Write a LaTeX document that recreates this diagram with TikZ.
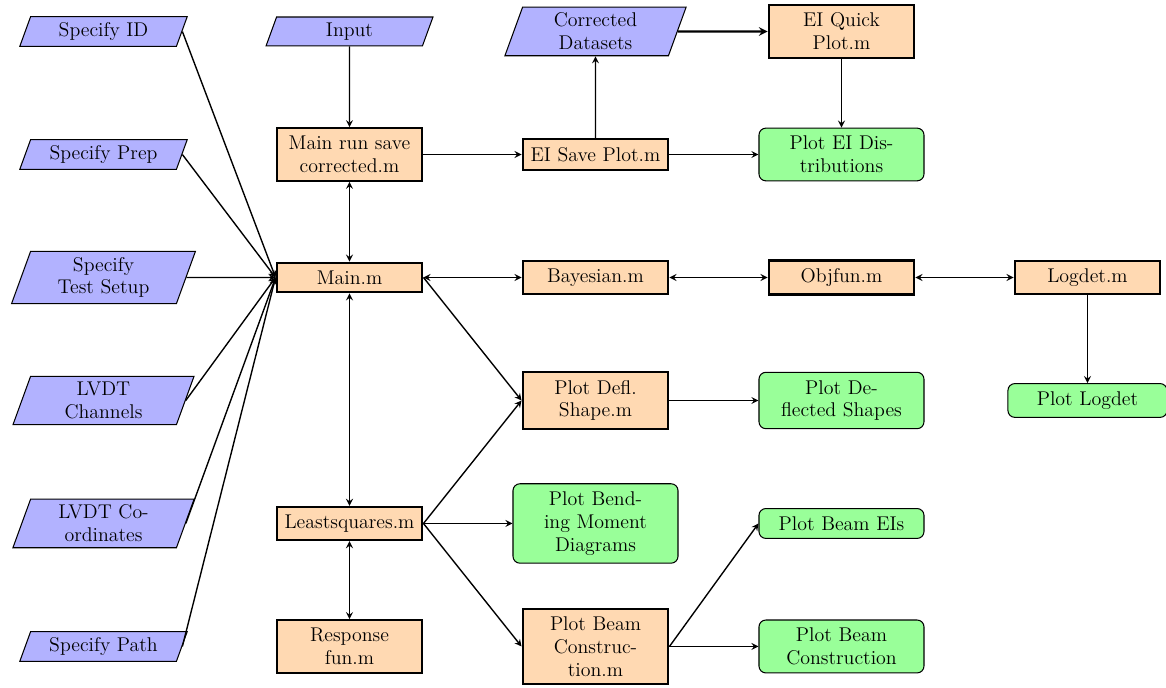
\documentclass[tikz,border=0pt]{standalone}
\usepackage{tikz}
\usetikzlibrary{shapes.geometric, arrows, positioning}
\newcommand{\boxfont}{\fontsize{11.5}{13.2}\selectfont}
\tikzset{
  inputbox/.style={trapezium, trapezium left angle=70, trapezium right angle=110,
    draw, semithick, fill=blue!30, text width=2.73cm, align=center, font=\boxfont}
}
\tikzset{
  processbox/.style={rectangle, draw, very thick, fill=orange!30, text width=2.73cm,
    inner ysep=4.6pt, align=center, font=\boxfont}
}
\tikzset{
  plotbox/.style={rectangle, rounded corners, draw, semithick, fill=green!40, text width=3.12cm,
    inner ysep=4.6pt, align=center, font=\boxfont}
}
\tikzset{
  flowline/.style={thick}
}

\begin{document}
\begin{tikzpicture}[>=stealth]
      \useasboundingbox (-2.104,0.64) rectangle (21.596,-13.343);
      % inputs
      \node[inputbox] (specid) at (0,0) {Specify ID};
      \node[inputbox] (specprep) at (0,-2.5) {Specify Prep};
      \node[inputbox] (specsetup) at (0,-5) {Specify\\Test Setup};
      \node[inputbox] (lvdtchan) at (0,-7.5) {LVDT\\Channels};
      \node[inputbox] (lvdtcoord) at (0,-10) {LVDT Co-\\ordinates};
      \node[inputbox] (specpath) at (0,-12.5) {Specify Path};
      % main column
      \node[inputbox] (input) at (5,0) {Input};
      \node[processbox] (mainrun) at (5,-2.5) {Main run save\\corrected.m};
      \node[processbox] (mainm) at (5,-5) {Main.m};
      \node[processbox] (lsq) at (5,-10) {Leastsquares.m};
      \node[processbox] (respfun) at (5,-12.5) {Response\\fun.m};
      % third column
      \node[inputbox] (corrdata) at (10,0) {Corrected\\Datasets};
      \node[processbox] (eisave) at (10,-2.5) {EI Save Plot.m};
      \node[processbox] (bayes) at (10,-5) {Bayesian.m};
      \node[processbox] (defl) at (10,-7.5) {Plot Defl.\\Shape.m};
      \node[plotbox] (bending) at (10,-10) {Plot Bend-\\ing Moment\\Diagrams};
      \node[processbox] (beamcon) at (10,-12.5) {Plot Beam\\Construc-\\tion.m};
      % fourth column
      \node[processbox] (eiquick) at (15,0) {EI Quick\\Plot.m};
      \node[plotbox] (eidist) at (15,-2.5) {Plot EI Dis-\\tributions};
      \node[processbox] (objfun) at (15,-5) {Objfun.m};
      \node[plotbox] (deflplot) at (15,-7.5) {Plot De-\\flected Shapes};
      \node[plotbox] (beamei) at (15,-10) {Plot Beam EIs};
      \node[plotbox] (beamplot) at (15,-12.5) {Plot Beam\\Construction};
      % logdet
      \node[processbox] (logdet) at (20,-5) {Logdet.m};
      \node[plotbox, text width=3cm] (logplot) at (20,-7.5) {Plot Logdet};
      % inputs into Main.m
      \draw[flowline, ->] (specid.east) -- (mainm.west);
      \draw[flowline, ->] (specprep.east) -- (mainm.west);
      \draw[flowline, ->] (specsetup.east) -- (mainm.west);
      \draw[flowline, ->] (lvdtchan.east) -- (mainm.west);
      \draw[flowline, ->] (lvdtcoord.east) -- (mainm.west);
      \draw[flowline, ->] (specpath.east) -- (mainm.west);
      % top part
      \draw[flowline, ->] (input) -- (mainrun);
      \draw[flowline, <->] (mainrun) -- (mainm);
      \draw[flowline, ->] (mainrun) -- (eisave);
      \draw[flowline, ->] (eisave) -- (corrdata);
      \draw[very thick, ->] (corrdata) -- (eiquick);
      \draw[flowline, ->] (eisave) -- (eidist);
      \draw[flowline, ->] (eiquick) -- (eidist);
      % bayesian chain
      \draw[flowline, <->] (mainm) -- (bayes);
      \draw[flowline, <->] (bayes) -- (objfun);
      \draw[flowline, <->] (objfun) -- (logdet);
      \draw[flowline, ->] (logdet) -- (logplot);
      % least squares part
      \draw[flowline, ->] (mainm.east) -- (defl.west);
      \draw[flowline, <->] (mainm) -- (lsq);
      \draw[flowline, <->] (lsq) -- (respfun);
      \draw[flowline, ->] (lsq.east) -- (defl.west);
      \draw[flowline, ->] (lsq) -- (bending);
      \draw[flowline, ->] (lsq.east) -- (beamcon.west);
      \draw[flowline, ->] (defl) -- (deflplot);
      \draw[flowline, ->] (beamcon.east) -- (beamei.west);
      \draw[flowline, ->] (beamcon) -- (beamplot);
    \end{tikzpicture}
\end{document}
